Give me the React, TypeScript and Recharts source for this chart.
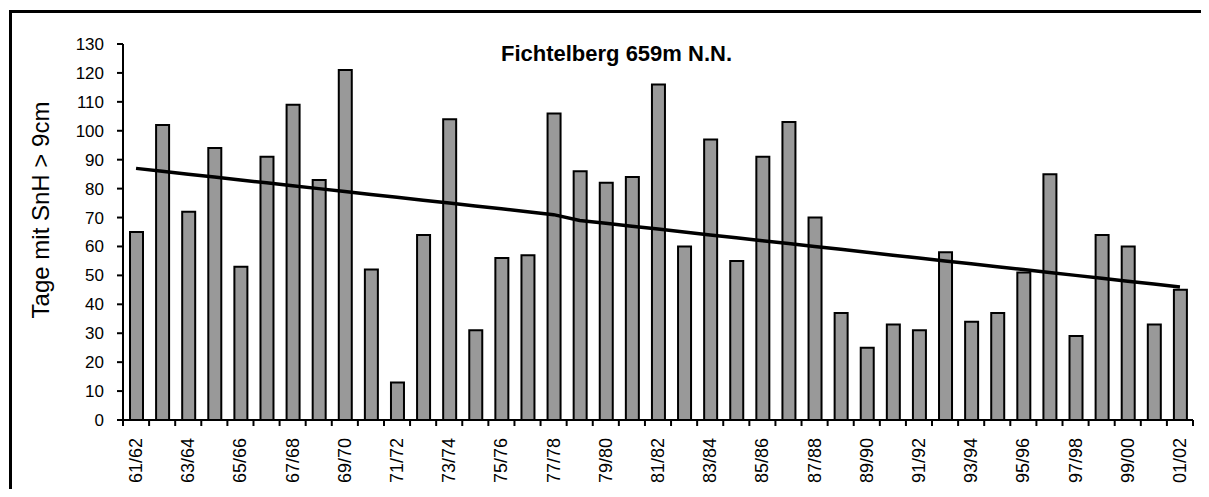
import React from 'react';
import { ComposedChart, Bar, Line, XAxis, YAxis } from 'recharts';

const seasons = [
  '61/62', '62/63', '63/64', '64/65', '65/66', '66/67', '67/68', '68/69', '69/70', '70/71',
  '71/72', '72/73', '73/74', '74/75', '75/76', '76/77', '77/78', '78/79', '79/80', '80/81',
  '81/82', '82/83', '83/84', '84/85', '85/86', '86/87', '87/88', '88/89', '89/90', '90/91',
  '91/92', '92/93', '93/94', '94/95', '95/96', '96/97', '97/98', '98/99', '99/00', '00/01',
  '01/02',
];

const days = [
  65, 102, 72, 94, 53, 91, 109, 83, 121, 52,
  13, 64, 104, 31, 56, 57, 106, 86, 82, 84,
  116, 60, 97, 55, 91, 103, 70, 37, 25, 33,
  31, 58, 34, 37, 51, 85, 29, 64, 60, 33,
  45,
];

const trend = [
  87, 86, 85, 84, 83, 82, 81, 80, 79, 78,
  77, 76, 75, 74, 73, 72, 71, 69, 68, 67,
  66, 65, 64, 63, 62, 61, 60, 59, 58, 57,
  56, 55, 54, 53, 52, 51, 50, 49, 48, 47,
  46,
];

const yTicks = [0, 10, 20, 30, 40, 50, 60, 70, 80, 90, 100, 110, 120, 130];

const data = seasons.map((s, i) => ({ season: s, days: days[i], trend: trend[i] }));

const FONT = '"Liberation Sans", Arial, Helvetica, sans-serif';
const TICK_SIZE = 6;
const TICK_MARGIN = 12;

const XTick = (props: any) => {
  const { x, y, payload, index } = props;
  const off = payload && typeof payload.offset === 'number' ? payload.offset : 0;
  const axisY = y - TICK_MARGIN - TICK_SIZE;
  const last = index === seasons.length - 1;
  return (
    <g>
      <line x1={x - off} x2={x - off} y1={axisY} y2={axisY + TICK_SIZE} stroke="#000" strokeWidth={2} />
      {last && (
        <line x1={x + off} x2={x + off} y1={axisY} y2={axisY + TICK_SIZE} stroke="#000" strokeWidth={2} />
      )}
      {index % 2 === 0 && (
        <text
          x={x}
          y={y}
          transform={`rotate(-90 ${x} ${y})`}
          textAnchor="end"
          dominantBaseline="central"
          fontSize={18}
          fontFamily={FONT}
          fill="#000"
        >
          {payload.value}
        </text>
      )}
    </g>
  );
};

export default function App() {
  return (
    <div style={{ position: 'relative', width: 1193, height: 481, background: '#fff' }}>
      <style>{'html, body { overflow: hidden; }'}</style>
      <div
        style={{
          position: 'absolute',
          left: 1,
          top: 2,
          width: 1250,
          height: 500,
          borderTop: '3px solid #000',
          borderLeft: '3px solid #000',
          boxSizing: 'border-box',
        }}
      />
      <div
        style={{
          position: 'absolute',
          left: 0,
          width: 1217,
          top: 34,
          textAlign: 'center',
          fontFamily: FONT,
          fontWeight: 'bold',
          fontSize: 22,
          lineHeight: '24px',
          color: '#000',
        }}
      >
        Fichtelberg 659m N.N.
      </div>
      <div
        style={{
          position: 'absolute',
          left: 33 - 150,
          top: 202 - 12,
          width: 300,
          height: 24,
          lineHeight: '24px',
          textAlign: 'center',
          transform: 'rotate(-90deg)',
          fontFamily: FONT,
          fontSize: 24,
          color: '#000',
          whiteSpace: 'nowrap',
        }}
      >
        Tage mit SnH &gt; 9cm
      </div>
      <div style={{ position: 'absolute', left: 0, top: 0 }}>
        <ComposedChart
          width={1193}
          height={481}
          data={data}
          margin={{ top: 36, right: 8, bottom: 7, left: 55 }}
        >
          <XAxis
            dataKey="season"
            interval={0}
            height={62}
            tickSize={TICK_SIZE}
            tickMargin={TICK_MARGIN}
            tickLine={false}
            axisLine={{ stroke: '#000', strokeWidth: 2 }}
            tick={<XTick />}
          />
          <YAxis
            width={60}
            domain={[0, 130]}
            ticks={yTicks}
            interval={0}
            tickSize={TICK_SIZE}
            tickMargin={13}
            axisLine={{ stroke: '#000', strokeWidth: 2 }}
            tickLine={{ stroke: '#000', strokeWidth: 2 }}
            tick={{ fill: '#000', fontSize: 17, fontFamily: FONT }}
          />
          <Bar dataKey="days" barSize={13} fill="#999999" stroke="#000" strokeWidth={2} isAnimationActive={false} />
          <Line
            dataKey="trend"
            type="linear"
            stroke="#000"
            strokeWidth={3.5}
            dot={false}
            activeDot={false}
            isAnimationActive={false}
          />
        </ComposedChart>
      </div>
    </div>
  );
}
